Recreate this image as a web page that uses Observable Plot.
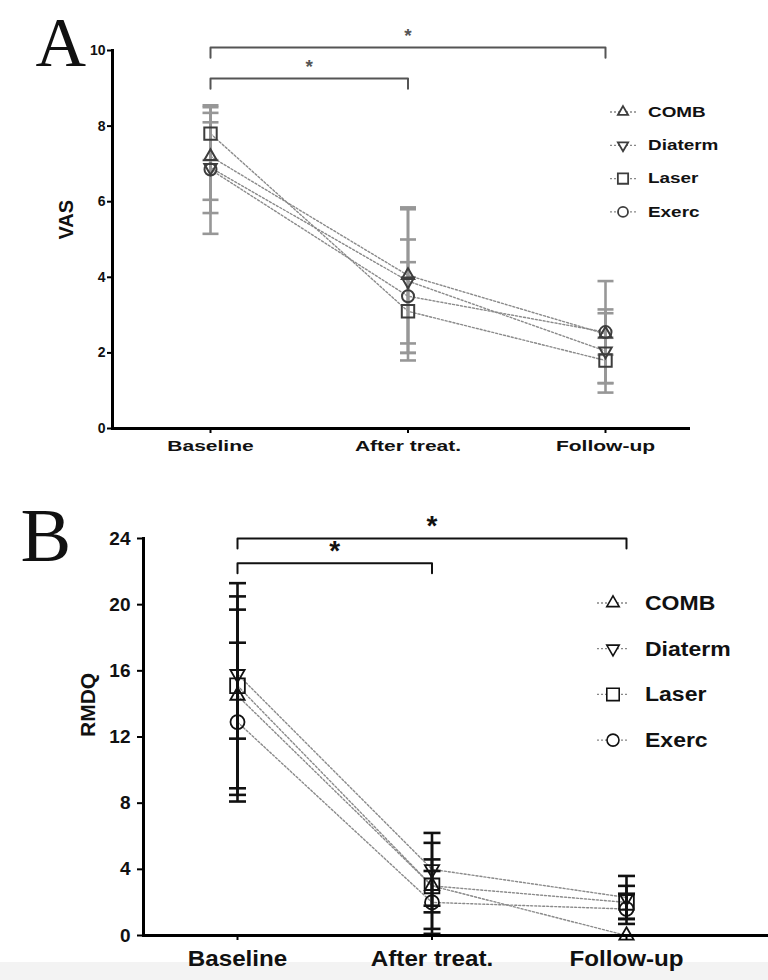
<!DOCTYPE html>
<html><head><meta charset="utf-8">
<script src="https://cdn.jsdelivr.net/npm/d3@7"></script>
<script src="https://cdn.jsdelivr.net/npm/@observablehq/plot@0.6"></script>
<style>
body{margin:0;background:#fff;font-family:"Liberation Sans",Arial,sans-serif;}
#wrap{position:relative;width:768px;height:980px;overflow:hidden;background:#fff;}
.band{position:absolute;left:0;top:962px;width:768px;height:18px;background:#f3f3f3;}
.panel{position:absolute;left:0;}
.lg{position:absolute;font-weight:bold;white-space:nowrap;transform-origin:left center;}
</style></head><body><div id="wrap"><div class="band"></div></div>
<script>
// ---------- data ----------
const timepoints = ["Baseline", "After treat.", "Follow-up"];
const groups = ["COMB", "Diaterm", "Laser", "Exerc"];
// VAS (panel A): mean and SD per group at each timepoint
const vasMean = [[7.2, 4.05, 2.5], [6.9, 3.9, 2.05], [7.8, 3.1, 1.8], [6.85, 3.5, 2.55]];
const vasSd   = [[1.15, 1.8, 0.55], [1.2, 1.9, 1.1], [0.7, 1.3, 0.6], [1.7, 1.5, 1.35]];
// RMDQ (panel B)
const rmdqMean = [[14.5, 3.0, 0], [15.8, 4.0, 2.3], [15.1, 3.0, 2.0], [12.9, 2.0, 1.6]];
const rmdqSd   = [[6.0, 1.6, 0], [3.9, 2.2, 1.3], [6.2, 2.6, 1.0], [4.8, 1.9, 0.9]];
const vasTicks = [0, 2, 4, 6, 8, 10];
const rmdqTicks = [0, 4, 8, 12, 16, 20, 24];
// significance brackets (timepoint indices, bracket level in axis units)
const vasBrackets = [{from: 0, to: 2, level: 10.08}, {from: 0, to: 1, level: 9.26}];
const rmdqBrackets = [{from: 0, to: 2, level: 24.0}, {from: 0, to: 1, level: 22.5}];
const panelLetters = ["A", "B"];

// ---------- symbols ----------
const triDown = {draw(ctx, size) {
  const y = -Math.sqrt(size / (Math.sqrt(3) * 3));
  ctx.moveTo(0, -2 * y); ctx.lineTo(-Math.sqrt(3) * y, y); ctx.lineTo(Math.sqrt(3) * y, y); ctx.closePath();
}};
const hline = {draw(ctx, size) {
  const w = Math.sqrt(size / Math.PI);
  ctx.moveTo(-w, 0); ctx.lineTo(w, 0);
}};
const groupSymbols = [d3.symbolTriangle, triDown, d3.symbolSquare, d3.symbolCircle];
const plotSymbols = ["triangle", triDown, "square", "circle"];

function stretch(svg, selector, f) {
  svg.querySelectorAll(selector).forEach(t => {
    const w = t.getComputedTextLength();
    t.setAttribute("textLength", w * f);
    t.setAttribute("lengthAdjust", "spacingAndGlyphs");
  });
}

function panel(o) {
  const rows = [];
  groups.forEach((g, gi) => timepoints.forEach((t, i) => {
    const m = o.means[gi][i], s = o.sds[gi][i];
    rows.push({group: g, gi, i, mean: m, lo: m - s, hi: m + s});
  }));
  const caps = rows.flatMap(d => [{i: d.i, v: d.lo}, {i: d.i, v: d.hi}]);
  const bpts = o.brackets.flatMap((b, k) => [
    {k, i: b.from, y: b.level - o.drop}, {k, i: b.from, y: b.level},
    {k, i: b.to, y: b.level}, {k, i: b.to, y: b.level - o.drop}]);
  const marks = [
    Plot.line(rows, {x: "i", y: "mean", z: "group", stroke: o.lineColor, strokeWidth: 1.4, strokeDasharray: "2,2"}),
    Plot.ruleX(rows, {x: "i", y1: "lo", y2: "hi", stroke: o.barColor, strokeWidth: 2.6}),
    Plot.dot(caps, {x: "i", y: "v", symbol: hline, r: o.capR, stroke: o.barColor, strokeWidth: 2.6}),
    ...groups.map((g, gi) => Plot.dot(rows.filter(d => d.gi === gi), {
      x: "i", y: "mean", symbol: plotSymbols[gi], r: o.symR[gi], fill: "none", stroke: o.markColor, strokeWidth: o.markWidth})),
    Plot.line(bpts, {x: "i", y: "y", z: "k", stroke: o.bracketColor, strokeWidth: 2}),
    Plot.text(o.brackets, {x: d => (d.from + d.to) / 2, y: "level", text: () => "*", fontSize: o.starSize, dy: o.starDy, fill: o.bracketColor, fontWeight: "bold"}),
    Plot.ruleY([0], {stroke: "#000", strokeWidth: 3}),
    Plot.frame({anchor: "left", stroke: "#000", strokeWidth: 3}),
    Plot.axisY({ticks: o.ticks, tickSize: o.yTickSize, tickPadding: o.yTickPad, fontSize: o.yFont, strokeWidth: 2, label: null, fill: "#111"}),
    Plot.axisX({ticks: [0, 1, 2], tickFormat: i => timepoints[i], tickSize: 5, tickPadding: o.xTickPad, fontSize: o.xFont, strokeWidth: 2, label: null, fill: "#111"}),
    Plot.text([o.yLabel], {frameAnchor: "left", rotate: -90, dx: o.yLabelDx, text: d => d, fontSize: o.yLabelFont, fontWeight: "bold", fill: "#111", lineAnchor: "middle"}),
    Plot.text([o.letter], {frameAnchor: "top-left", dx: o.letterDx, dy: o.letterDy, text: d => d, fontSize: o.letterSize, fontWeight: "normal", fontFamily: '"Liberation Serif", "DejaVu Serif", serif', fill: "#111", textAnchor: "start", lineAnchor: "bottom"})
  ];
  const svg = Plot.plot({
    width: 768, height: o.height,
    marginTop: o.marginTop, marginBottom: o.marginBottom, marginLeft: o.marginLeft, marginRight: o.marginRight,
    x: {domain: [0, 2], range: o.xRange},
    y: {domain: o.yDomain},
    style: {fontFamily: '"Liberation Sans", Arial, sans-serif', fontWeight: "bold", background: "transparent", overflow: "visible"},
    marks
  });
  svg.classList.add("panel");
  svg.style.top = o.top + "px";
  document.getElementById("wrap").appendChild(svg);
  stretch(svg, 'g[aria-label="x-axis tick label"] text', o.xStretch);
  return svg;
}

function legend(o) {
  const wrap = document.getElementById("wrap");
  const svg = d3.create("svg").attr("width", 768).attr("height", 980)
    .style("position", "absolute").style("left", 0).style("top", 0).style("pointer-events", "none");
  groups.forEach((g, gi) => {
    const y = o.y0 + gi * o.step;
    svg.append("line").attr("x1", o.seg[0]).attr("x2", o.seg[1]).attr("y1", y).attr("y2", y)
      .attr("stroke", o.lineColor).attr("stroke-width", 1.3).attr("stroke-dasharray", "2,2");
    svg.append("path").attr("transform", `translate(${o.mx},${y})`)
      .attr("d", d3.symbol(groupSymbols[gi], Math.PI * o.symR[gi] ** 2)())
      .attr("fill", "#fff").attr("stroke", o.markColor).attr("stroke-width", o.markWidth);
    const div = document.createElement("div");
    div.className = "lg";
    div.textContent = g;
    div.style.left = o.tx + "px";
    div.style.top = (y - o.font * 0.6) + "px";
    div.style.fontSize = o.font + "px";
    div.style.lineHeight = (o.font * 1.2) + "px";
    div.style.color = "#111";
    div.style.transform = `scaleX(${o.textStretch})`;
    wrap.appendChild(div);
  });
  wrap.appendChild(svg.node());
}

// Panel A
panel({
  means: vasMean, sds: vasSd, ticks: vasTicks, brackets: vasBrackets, drop: 0.27, yDomain: [0, 10],
  top: 0, height: 470, marginTop: 50, marginBottom: 42, marginLeft: 112, marginRight: 78, xRange: [210, 605],
  lineColor: "#8a8a8a", barColor: "#979797", markColor: "#3d3d3d", markWidth: 2, bracketColor: "#555",
  symR: [4.6, 4.6, 7, 6], capR: 8, starSize: 19, starDy: -12,
  yTickSize: 5, yTickPad: 2, yFont: 14, xTickPad: 7, xFont: 15, xStretch: 1.4,
  yLabel: "VAS", yLabelDx: -46, yLabelFont: 20,
  letter: panelLetters[0], letterDx: -77, letterDy: 15, letterSize: 70
});
// Panel B
panel({
  means: rmdqMean, sds: rmdqSd, ticks: rmdqTicks, brackets: rmdqBrackets, drop: 0.6, yDomain: [0, 24],
  top: 470, height: 510, marginTop: 68, marginBottom: 45, marginLeft: 143, marginRight: 0, xRange: [237, 626],
  lineColor: "#8a8a8a", barColor: "#111", markColor: "#111", markWidth: 1.8, bracketColor: "#111",
  symR: [5.3, 5.3, 8.3, 7], capR: 8.5, starSize: 28, starDy: -12,
  yTickSize: 6, yTickPad: 7, yFont: 19, xTickPad: 10, xFont: 22, xStretch: 1.1,
  yLabel: "RMDQ", yLabelDx: -55, yLabelFont: 21,
  letter: panelLetters[1], letterDx: -123, letterDy: 22, letterSize: 76
});

legend({y0: 112, step: 33.3, mx: 623, seg: [610, 637], tx: 648, font: 14, textStretch: 1.35,
  symR: [3.8, 3.8, 5.8, 5], lineColor: "#888", markColor: "#3d3d3d", markWidth: 1.8});
legend({y0: 603, step: 45.7, mx: 613, seg: [597, 629], tx: 645, font: 20, textStretch: 1.15,
  symR: [4.6, 4.6, 7, 6], lineColor: "#888", markColor: "#111", markWidth: 1.6});
</script>
</body></html>
